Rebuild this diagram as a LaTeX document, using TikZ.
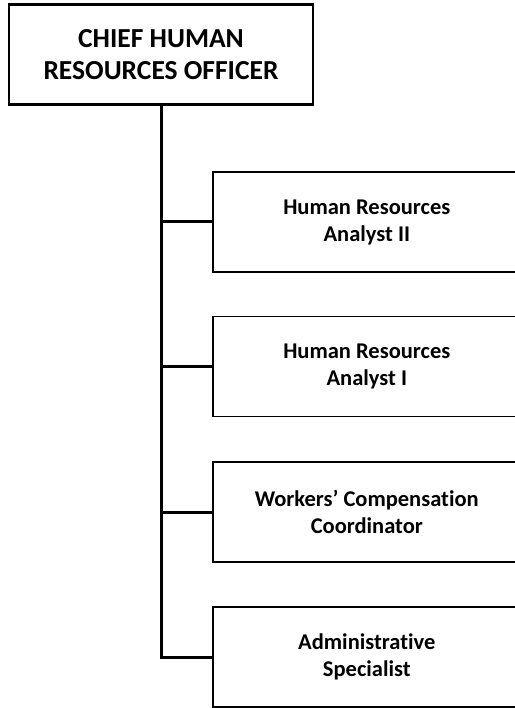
\documentclass[tikz,border=0pt]{standalone}
\usepackage{fontspec}
\setmainfont[Ligatures=NoCommon]{Carlito}
\tikzset{
  chief/.style={draw, line width=2.4pt, minimum width=304pt, minimum height=100pt,
    inner sep=0pt, align=center, font=\fontsize{27.5}{32}\selectfont\bfseries},
  post/.style={draw, line width=1.6pt, minimum width=308pt, minimum height=100pt,
    inner sep=0pt, align=center, font=\fontsize{22.5}{27}\selectfont\bfseries},
  link/.style={line width=3pt}
}
\begin{document}
\begin{tikzpicture}[x=1pt, y=-1pt]
    \useasboundingbox (0, 0) rectangle (514, 708);
    \node[chief] (cho) at (161, 54.5) {CHIEF HUMAN\\RESOURCES OFFICER};
    \node[post, anchor=west] (hr2) at (212, 222) {Human Resources\\Analyst II};
    \node[post, anchor=west] (hr1) at (212, 366.5) {Human Resources\\Analyst I};
    \node[post, anchor=west] (wcc) at (212, 512) {Workers’ Compensation\\Coordinator};
    \node[post, anchor=west] (spec) at (212, 657) {Administrative\\Specialist};
    \draw[link] (cho.south) |- (spec.west);
    \draw[link] (hr2.west) -- (hr2.west -| cho.south);
    \draw[link] (hr1.west) -- (hr1.west -| cho.south);
    \draw[link] (wcc.west) -- (wcc.west -| cho.south);
  \end{tikzpicture}
\end{document}
